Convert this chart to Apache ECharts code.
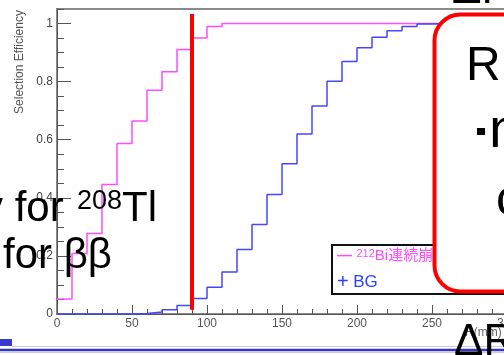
<!DOCTYPE html>
<html>
<head>
<meta charset="utf-8">
<script src="https://cdn.jsdelivr.net/npm/echarts@6/dist/echarts.min.js"></script>
<style>
  html, body { margin: 0; padding: 0; background: #fff; }
  #chart { width: 504px; height: 355px; }
</style>
</head>
<body>
<div id="chart"></div>
<script>
// bin edges (mm), 10 mm bins
const binEdges = [0, 10, 20, 30, 40, 50, 60, 70, 80, 90, 100, 110, 120, 130, 140, 150,
  160, 170, 180, 190, 200, 210, 220, 230, 240, 250, 260, 270, 280, 290, 300]
// selection efficiency per bin, 212Bi consecutive decay
const biEff = [0.052, 0.208, 0.277, 0.446, 0.587, 0.664, 0.770, 0.834, 0.911, 0.950,
  0.990, 1, 1, 1, 1, 1, 1, 1, 1, 1, 1, 1, 1, 1, 1, 1, 1, 1, 1, 1]
// selection efficiency per bin, background
const bgEff = [0, 0, 0, 0, 0, 0.002, 0.007, 0.015, 0.029, 0.053,
  0.092, 0.145, 0.222, 0.308, 0.411, 0.517, 0.620, 0.716, 0.801, 0.869,
  0.917, 0.953, 0.975, 0.990, 0.998, 1, 1, 1, 1, 1]
const yMajorTicks = [0, 0.2, 0.4, 0.6, 0.8, 1]
const yMinorTicks = [0.05, 0.1, 0.15, 0.25, 0.3, 0.35, 0.45, 0.5, 0.55, 0.65, 0.7, 0.75,
  0.85, 0.9, 0.95, 1.05]
const cutR = 90

const biName = '212Bi連続崩壊'
const FONT = 'Liberation Sans'

const toSteps = eff => binEdges.map((x, i) => [x, eff[Math.min(i, eff.length - 1)]])

const chart = echarts.init(document.getElementById('chart'))

const bigText = (text, x, y, size) => ({
  type: 'text', x: x, y: y, z: 100,
  style: { text: text, fill: '#000', fontSize: size, fontFamily: FONT, align: 'left', verticalAlign: 'middle' }
})

chart.setOption({
  animation: false,
  backgroundColor: '#fff',
  grid: {
    left: 57, top: 9, width: 450, bottom: 41,
    outerBoundsMode: 'none', containLabel: false,
    show: true, borderColor: '#8a8a8a', borderWidth: 2, backgroundColor: 'transparent'
  },
  xAxis: {
    type: 'value', min: 0, max: 300, interval: 50,
    axisLine: { lineStyle: { color: '#555', width: 1 } },
    axisTick: { inside: true, length: 9, lineStyle: { color: '#555' } },
    minorTick: { show: true, splitNumber: 5, length: 5, lineStyle: { color: '#555' } },
    axisLabel: { color: '#555', fontSize: 12, margin: 4, fontFamily: FONT },
    splitLine: { show: false }
  },
  yAxis: [
    {
      type: 'value', min: 0, max: 1.05,
      axisLine: { show: true, lineStyle: { color: '#555', width: 1 } },
      axisTick: { inside: true, length: 14, customValues: yMajorTicks, lineStyle: { color: '#555' } },
      axisLabel: { customValues: yMajorTicks, color: '#444', fontSize: 12, margin: 4, fontFamily: FONT },
      splitLine: { show: false }
    },
    {
      type: 'value', min: 0, max: 1.05, position: 'left',
      axisLine: { show: false },
      axisTick: { inside: true, length: 7, customValues: yMinorTicks, lineStyle: { color: '#555' } },
      axisLabel: { show: false },
      splitLine: { show: false }
    }
  ],
  legend: {
    left: 332, top: 245, orient: 'vertical',
    icon: 'none', itemWidth: 0, itemHeight: 16, itemGap: 8,
    padding: [3, 60, 2, 0],
    backgroundColor: '#fff', borderColor: '#111', borderWidth: 2,
    data: [
      { name: biName, textStyle: { color: '#ff4cff' } },
      { name: 'BG', textStyle: { color: '#2a40ff' } }
    ],
    formatter: name => name === 'BG'
      ? '{p|+} {b|BG}'
      : '{d|—} {s|212}{t|Bi連続崩壊}',
    textStyle: {
      fontFamily: FONT, fontSize: 16,
      rich: {
        p: { fontSize: 20, fontFamily: FONT },
        b: { fontSize: 17, fontFamily: FONT },
        d: { fontSize: 15, fontFamily: FONT, fontWeight: 'bold' },
        s: { fontSize: 11, fontFamily: FONT, verticalAlign: 'top' },
        t: { fontSize: 15, fontFamily: FONT + ', Noto Sans CJK JP' }
      }
    }
  },
  series: [
    {
      name: biName, type: 'line', step: 'end', showSymbol: false,
      data: toSteps(biEff),
      itemStyle: { color: '#ff4cff' },
      lineStyle: { color: '#ff4cff', width: 1.5 },
      markLine: {
        silent: true, symbol: 'none', label: { show: false },
        lineStyle: { color: '#ff0000', width: 4, type: 'solid' },
        data: [[{ coord: [cutR, 0.015] }, { coord: [cutR, 1.033] }]]
      }
    },
    {
      name: 'BG', type: 'line', step: 'end', showSymbol: false,
      data: toSteps(bgEff),
      itemStyle: { color: '#4646ff' },
      lineStyle: { color: '#4646ff', width: 1.5 }
    }
  ],
  graphic: [
    // axis titles
    {
      type: 'text', x: 20, y: 62, rotation: Math.PI / 2, z: 50,
      style: { text: 'Selection Efficiency', fill: '#555', fontSize: 12, fontFamily: FONT, align: 'center', verticalAlign: 'middle' }
    },
    {
      type: 'text', x: 465, y: 333, z: 50,
      style: { text: 'R(mm)', fill: '#666', fontSize: 12, fontFamily: FONT, align: 'left', verticalAlign: 'middle' }
    },
    // slide callout box
    {
      type: 'rect', z: 100,
      shape: { x: 434.5, y: 14.5, width: 120, height: 277, r: 26 },
      style: { fill: '#fff', stroke: '#ff0000', lineWidth: 4 }
    },
    bigText('R', 466, 67, 48),
    { type: 'rect', z: 100, shape: { x: 477, y: 128, width: 8, height: 7 }, style: { fill: '#000' } },
    bigText('n', 489, 132, 56),
    bigText('c', 496, 201, 50),
    // slide text, left
    bigText('y for', -18, 209, 42),
    bigText('208', 77, 202, 27),
    bigText('Tl', 122, 209, 42),
    bigText('for ββ', 3, 256, 42),
    // slide headings cut at the edges
    bigText('ΔR', 452, -9, 44),
    bigText('ΔR', 454, 343, 44),
    // slide footer bars
    { type: 'rect', z: 100, shape: { x: 0, y: 339, width: 12, height: 7 }, style: { fill: '#3a3acc' } },
    { type: 'line', z: 90, shape: { x1: 12, y1: 346.5, x2: 504, y2: 346.5 }, style: { stroke: '#c8c8f0', lineWidth: 1 } },
    { type: 'line', z: 90, shape: { x1: 0, y1: 350, x2: 504, y2: 350 }, style: { stroke: '#3535c0', lineWidth: 2.5 } },
    { type: 'line', z: 90, shape: { x1: 0, y1: 352.5, x2: 504, y2: 352.5 }, style: { stroke: '#c8c8f0', lineWidth: 1 } }
  ]
})
</script>
</body>
</html>
